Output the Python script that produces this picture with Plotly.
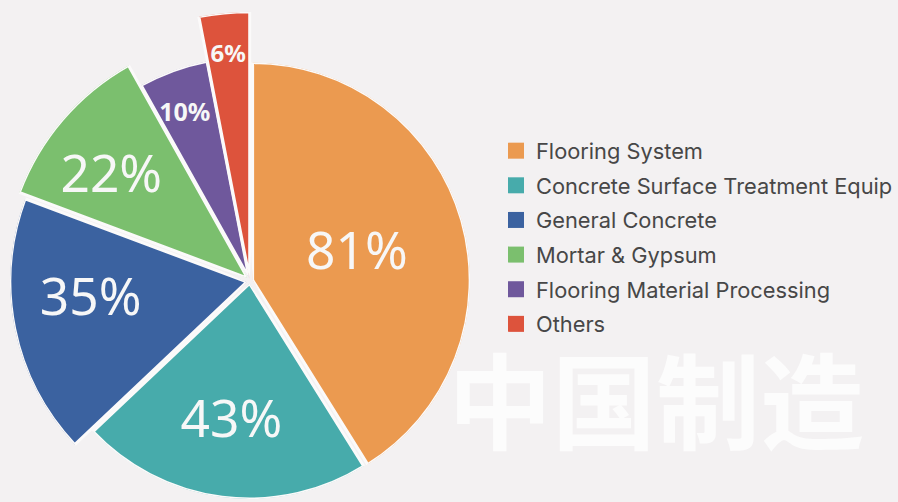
import math
import plotly.graph_objects as go

# ---- data ----
categories = ["Flooring System", "Concrete Surface Treatment Equip", "General Concrete",
              "Mortar & Gypsum", "Flooring Material Processing", "Others"]
values = [81, 43, 35, 22, 10, 6]
value_labels = [f"{v}%" for v in values]

# ---- styles ----
colors = ["#eb9a50", "#47abab", "#3b62a0", "#7bbf6e", "#6f589c", "#dd533c"]
slice_radius = [219.5, 217.5, 239, 246, 223, 270]   # outer radius of each slice (px)
slice_pull = [3, 1.5, 3, 3, 2, 0.5]                 # px each wedge is moved out from centre
label_radius = [108, 143.5, 159, 170, 177, 226]
label_dtheta = [3, 0, 4, -4.6, -1.4, 0]             # label angle nudge (deg)
label_size = [51.5, 51.5, 51.5, 51.5, 25, 24]
label_bold = [False, False, False, False, True, True]
gap_color = "#fbfafa"
gap_width = 3

W, H = 898, 502
CX, CY = 252, 281     # common pie centre (px from top-left)
PAD = 3               # degrees of extra sector around each wedge


def sector_bbox(s0, s1):
    arc = s1 - s0
    a0 = s0 % 360
    a1 = a0 + arc
    c0, d0 = math.cos(math.radians(a0)), math.sin(math.radians(a0))
    c1, d1 = math.cos(math.radians(a1)), math.sin(math.radians(a1))
    if (a0 <= 90 and a1 >= 90) or (a0 > 90 and a1 >= 450):
        y1 = 1
    elif d0 <= 0 and d1 <= 0:
        y1 = 0
    else:
        y1 = max(d0, d1)
    if (a0 <= 180 and a1 >= 180) or (a0 > 180 and a1 >= 540):
        x0 = -1
    elif c0 >= 0 and c1 >= 0:
        x0 = 0
    else:
        x0 = min(c0, c1)
    if (a0 <= 270 and a1 >= 270) or (a0 > 270 and a1 >= 630):
        y0 = -1
    elif d0 >= 0 and d1 >= 0:
        y0 = 0
    else:
        y0 = min(d0, d1)
    if a1 >= 360:
        x1 = 1
    elif c0 <= 0 and c1 <= 0:
        x1 = 0
    else:
        x1 = max(c0, c1)
    return x0, y0, x1, y1


total = sum(values)
widths = [v / total * 360 for v in values]
starts, mids = [], []
acc = 0.0
for w in widths:
    starts.append(acc)
    mids.append(acc + w / 2)
    acc += w

fig = go.Figure()
layout_polars = {}

for i, cat in enumerate(categories):
    pid = "polar" if i == 0 else f"polar{i + 1}"
    s_cw, e_cw = starts[i], starts[i] + widths[i]
    sector = [90 - e_cw - PAD, 90 - s_cw + PAD]
    x0, y0, x1, y1 = sector_bbox(*sector)
    rad = slice_radius[i]
    ang = math.radians(mids[i])
    cx = CX + slice_pull[i] * math.sin(ang)
    cyp = (H - CY) + slice_pull[i] * math.cos(ang)
    layout_polars[pid] = dict(
        domain=dict(x=[(cx + x0 * rad) / W, (cx + x1 * rad) / W],
                    y=[(cyp + y0 * rad) / H, (cyp + y1 * rad) / H]),
        sector=sector,
        bgcolor="rgba(0,0,0,0)",
        radialaxis=dict(visible=False, range=[0, rad]),
        angularaxis=dict(visible=False, rotation=90, direction="clockwise"),
    )
    fig.add_trace(go.Barpolar(
        r=[rad], theta=[mids[i]], width=[widths[i]], base=0,
        name=cat, subplot=pid,
        marker=dict(color=colors[i], line=dict(color=gap_color, width=gap_width)),
        showlegend=False, hovertext=[f"{cat}: {value_labels[i]}"], hoverinfo="text",
    ))
    txt = f"<b>{value_labels[i]}</b>" if label_bold[i] else value_labels[i]
    fig.add_trace(go.Scatterpolar(
        r=[label_radius[i]], theta=[mids[i] + label_dtheta[i]], mode="text", text=[txt],
        subplot=pid,
        textfont=dict(family="Noto Sans", size=label_size[i], color="#f7f7f7"),
        textposition="middle center", cliponaxis=False, showlegend=False, hoverinfo="skip",
    ))

for i, cat in enumerate(categories):
    fig.add_trace(go.Scatterpolar(
        r=[None], theta=[None], mode="markers", name=cat, legendgroup=str(i),
        marker=dict(symbol="square", size=16, color=colors[i]),
    ))

fig.add_annotation(
    text="<b>中国制造</b>", x=874 / W, y=1 - 396 / H, xref="paper", yref="paper",
    xanchor="right", yanchor="middle", showarrow=False,
    font=dict(family="Noto Sans CJK SC", size=104, color="#fcfcfc"),
)

fig.update_layout(
    width=W, height=H,
    margin=dict(l=0, r=0, t=0, b=0),
    paper_bgcolor="#f3f1f2",
    plot_bgcolor="#f3f1f2",
    legend=dict(
        x=500.5 / W, y=1 - 130 / H, xanchor="left", yanchor="top",
        font=dict(family="Inter", size=21.8, color="#474747"),
        bgcolor="rgba(0,0,0,0)", tracegroupgap=3.3, itemclick=False,
    ),
    showlegend=True,
    **layout_polars,
)

fig.write_html("out.html", config={"displayModeBar": False},
               post_script="document.body.style.margin='0';")
